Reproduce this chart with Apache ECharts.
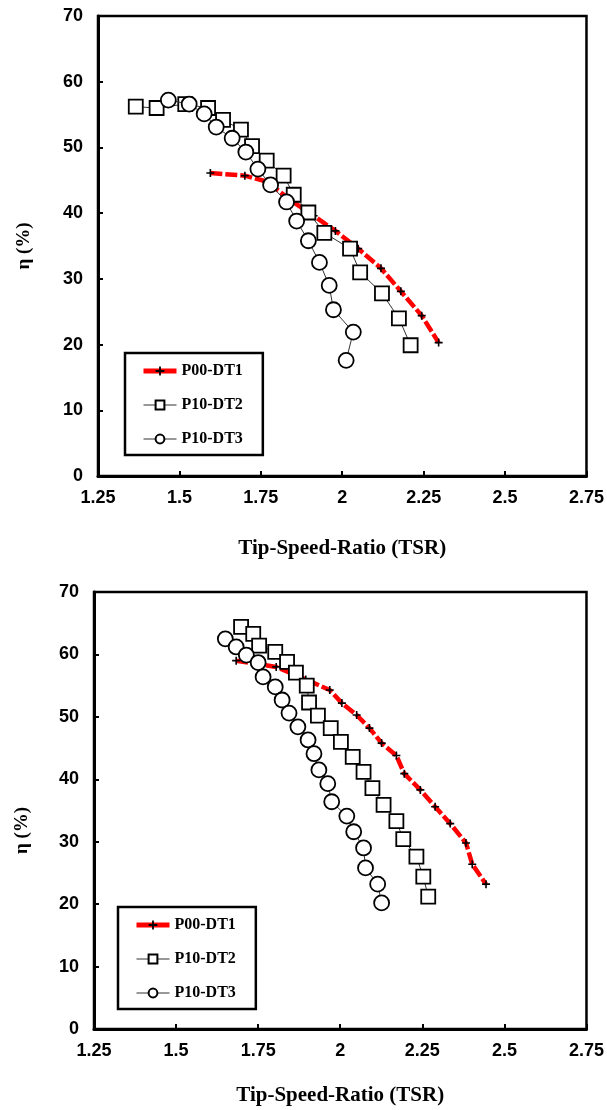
<!DOCTYPE html>
<html>
<head>
<meta charset="utf-8">
<script src="https://cdn.jsdelivr.net/npm/echarts@6/dist/echarts.min.js"></script>
<style>
html,body{margin:0;padding:0;background:#fff;}
#c{width:607px;height:1110px;}
</style>
</head>
<body>
<div id="c"></div>
<script>
// ---------- data: top chart ----------
const topDT1X = [1.595, 1.701, 1.768, 1.841, 1.912, 1.979, 2.049, 2.119, 2.180, 2.244, 2.296];
const topDT1Y = [46.1, 45.7, 44.8, 42.0, 39.6, 37.3, 34.6, 31.6, 28.1, 24.4, 20.3];
const topDT2X = [1.366, 1.430, 1.518, 1.588, 1.634, 1.689, 1.723, 1.768, 1.820, 1.851, 1.896, 1.945, 2.024, 2.055, 2.122, 2.174, 2.210];
const topDT2Y = [56.2, 56.0, 56.6, 56.0, 54.2, 52.7, 50.2, 48.0, 45.7, 42.8, 40.1, 37.0, 34.6, 31.0, 27.8, 24.0, 19.9];
const topDT3X = [1.466, 1.530, 1.576, 1.613, 1.662, 1.704, 1.741, 1.780, 1.829, 1.860, 1.896, 1.930, 1.960, 1.973, 2.034, 2.012];
const topDT3Y = [57.2, 56.6, 55.1, 53.1, 51.4, 49.3, 46.7, 44.3, 41.7, 38.8, 35.8, 32.5, 29.0, 25.3, 21.9, 17.6];

// ---------- data: bottom chart ----------
const botDT1X = [1.683, 1.805, 1.895, 1.968, 2.005, 2.050, 2.089, 2.126, 2.171, 2.195, 2.244, 2.289, 2.335, 2.383, 2.402, 2.444];
const botDT1Y = [59.0, 58.0, 56.0, 54.3, 52.2, 50.3, 48.2, 45.8, 43.8, 40.9, 38.3, 35.6, 32.9, 29.8, 26.4, 23.2];
const botDT2X = [1.698, 1.735, 1.753, 1.802, 1.838, 1.865, 1.898, 1.905, 1.932, 1.971, 2.002, 2.038, 2.071, 2.098, 2.132, 2.171, 2.192, 2.232, 2.253, 2.268];
const botDT2Y = [64.4, 63.3, 61.4, 60.4, 58.8, 57.1, 55.0, 52.3, 50.2, 48.2, 46.0, 43.6, 41.2, 38.6, 35.9, 33.3, 30.4, 27.6, 24.4, 21.2];
const botDT3X = [1.650, 1.683, 1.714, 1.750, 1.765, 1.802, 1.823, 1.844, 1.871, 1.902, 1.920, 1.935, 1.962, 1.974, 2.020, 2.041, 2.071, 2.077, 2.114, 2.126];
const botDT3Y = [62.5, 61.2, 59.9, 58.7, 56.4, 54.8, 52.7, 50.6, 48.4, 46.3, 44.1, 41.5, 39.3, 36.4, 34.1, 31.6, 29.0, 25.8, 23.2, 20.2];

const seriesNames = ['P00-DT1', 'P10-DT2', 'P10-DT3'];
const xAxisTitle = 'Tip-Speed-Ratio (TSR)';
const yAxisTitle = 'η (%)';

function zip(xs, ys) { return xs.map((x, i) => [x, ys[i]]); }

const PLUS = 'path://M4,0H6V4H10V6H6V10H4V6H0V4H4Z';
const labelFont = { fontFamily: 'Liberation Sans, Arial', fontWeight: 'bold', fontSize: 18, color: '#000' };
const xTitleFont = { fontFamily: 'Liberation Serif, Times New Roman', fontWeight: 'bold', fontSize: 21, color: '#000' };

function xAx(gi, gap) {
  return {
    gridIndex: gi, type: 'value', min: 1.25, max: 2.75, interval: 0.25,
    name: xAxisTitle, nameLocation: 'middle', nameGap: gap, nameTextStyle: xTitleFont,
    axisLine: { show: true, onZero: false, lineStyle: { color: '#000', width: 3 } },
    axisTick: { show: true, inside: true, length: 5, lineStyle: { color: '#000', width: 2 } },
    axisLabel: Object.assign({ margin: 13 }, labelFont),
    splitLine: { show: false }
  };
}
function yAx(gi, gap, shiftDown) {
  return {
    gridIndex: gi, type: 'value', min: 0, max: 70, interval: 10,
    name: yAxisTitle, nameLocation: 'middle', nameGap: gap, nameRotate: 90,
    nameTextStyle: { fontFamily: 'Liberation Serif, Times New Roman', fontWeight: 'bold', fontSize: 19, color: '#000',
      padding: [0, shiftDown * 2, 0, 0] },
    axisLine: { show: true, onZero: false, lineStyle: { color: '#000', width: 3 } },
    axisTick: { show: true, inside: true, length: 5, lineStyle: { color: '#000', width: 2 } },
    axisLabel: Object.assign({ margin: 15 }, labelFont),
    splitLine: { show: false }
  };
}
function mkSeries(gi, d1, d2, d3) {
  return [
    {
      name: seriesNames[0], type: 'line', xAxisIndex: gi, yAxisIndex: gi, data: d1,
      symbol: PLUS, symbolSize: 8, showAllSymbol: true, smooth: false, z: 2,
      itemStyle: { color: '#000' },
      lineStyle: { color: '#ff0000', width: 4.5, type: [12, 3] },
      animation: false
    },
    {
      name: seriesNames[1], type: 'line', xAxisIndex: gi, yAxisIndex: gi, data: d2,
      symbol: 'rect', symbolSize: 14, showAllSymbol: true, z: 3,
      itemStyle: { color: '#fff', borderColor: '#000', borderWidth: 1.8 },
      lineStyle: { color: '#333', width: 1 },
      animation: false
    },
    {
      name: seriesNames[2], type: 'line', xAxisIndex: gi, yAxisIndex: gi, data: d3,
      symbol: 'circle', symbolSize: 15, showAllSymbol: true, z: 4,
      itemStyle: { color: '#fff', borderColor: '#000', borderWidth: 1.8 },
      lineStyle: { color: '#333', width: 1 },
      animation: false
    }
  ];
}
function mkLegend(left, top) {
  return {
    data: [
      { name: seriesNames[0], lineStyle: { type: 'solid', width: 5, color: '#ff0000' } },
      { name: seriesNames[1], lineStyle: { type: 'solid', width: 1, color: '#333' } },
      { name: seriesNames[2], lineStyle: { type: 'solid', width: 1, color: '#333' } }
    ],
    orient: 'vertical', left: left, top: top,
    borderColor: '#000', borderWidth: 2.5, padding: [10, 20, 8, 16], itemGap: 18,
    itemWidth: 33, itemHeight: 11, backgroundColor: '#fff',
    textStyle: { fontFamily: 'Liberation Serif, Times New Roman', fontWeight: 'bold', fontSize: 16, color: '#000' },
    selectedMode: false
  };
}

const chart = echarts.init(document.getElementById('c'), null, { renderer: 'canvas' });
chart.setOption({
  backgroundColor: '#fff',
  animation: false,
  grid: [
    { left: 98, top: 16, width: 491, height: 460, show: true, borderColor: '#000', borderWidth: 2.5, backgroundColor: 'transparent' },
    { left: 94, top: 592, width: 495, height: 437, show: true, borderColor: '#000', borderWidth: 2.5, backgroundColor: 'transparent' }
  ],
  xAxis: [xAx(0, 62), xAx(1, 56)],
  yAxis: [yAx(0, 64, 0), yAx(1, 62, 20)],
  legend: [mkLegend(125, 353), mkLegend(118, 907)],
  series: mkSeries(0, zip(topDT1X, topDT1Y), zip(topDT2X, topDT2Y), zip(topDT3X, topDT3Y))
    .concat(mkSeries(1, zip(botDT1X, botDT1Y), zip(botDT2X, botDT2Y), zip(botDT3X, botDT3Y)))
});
</script>
</body>
</html>
